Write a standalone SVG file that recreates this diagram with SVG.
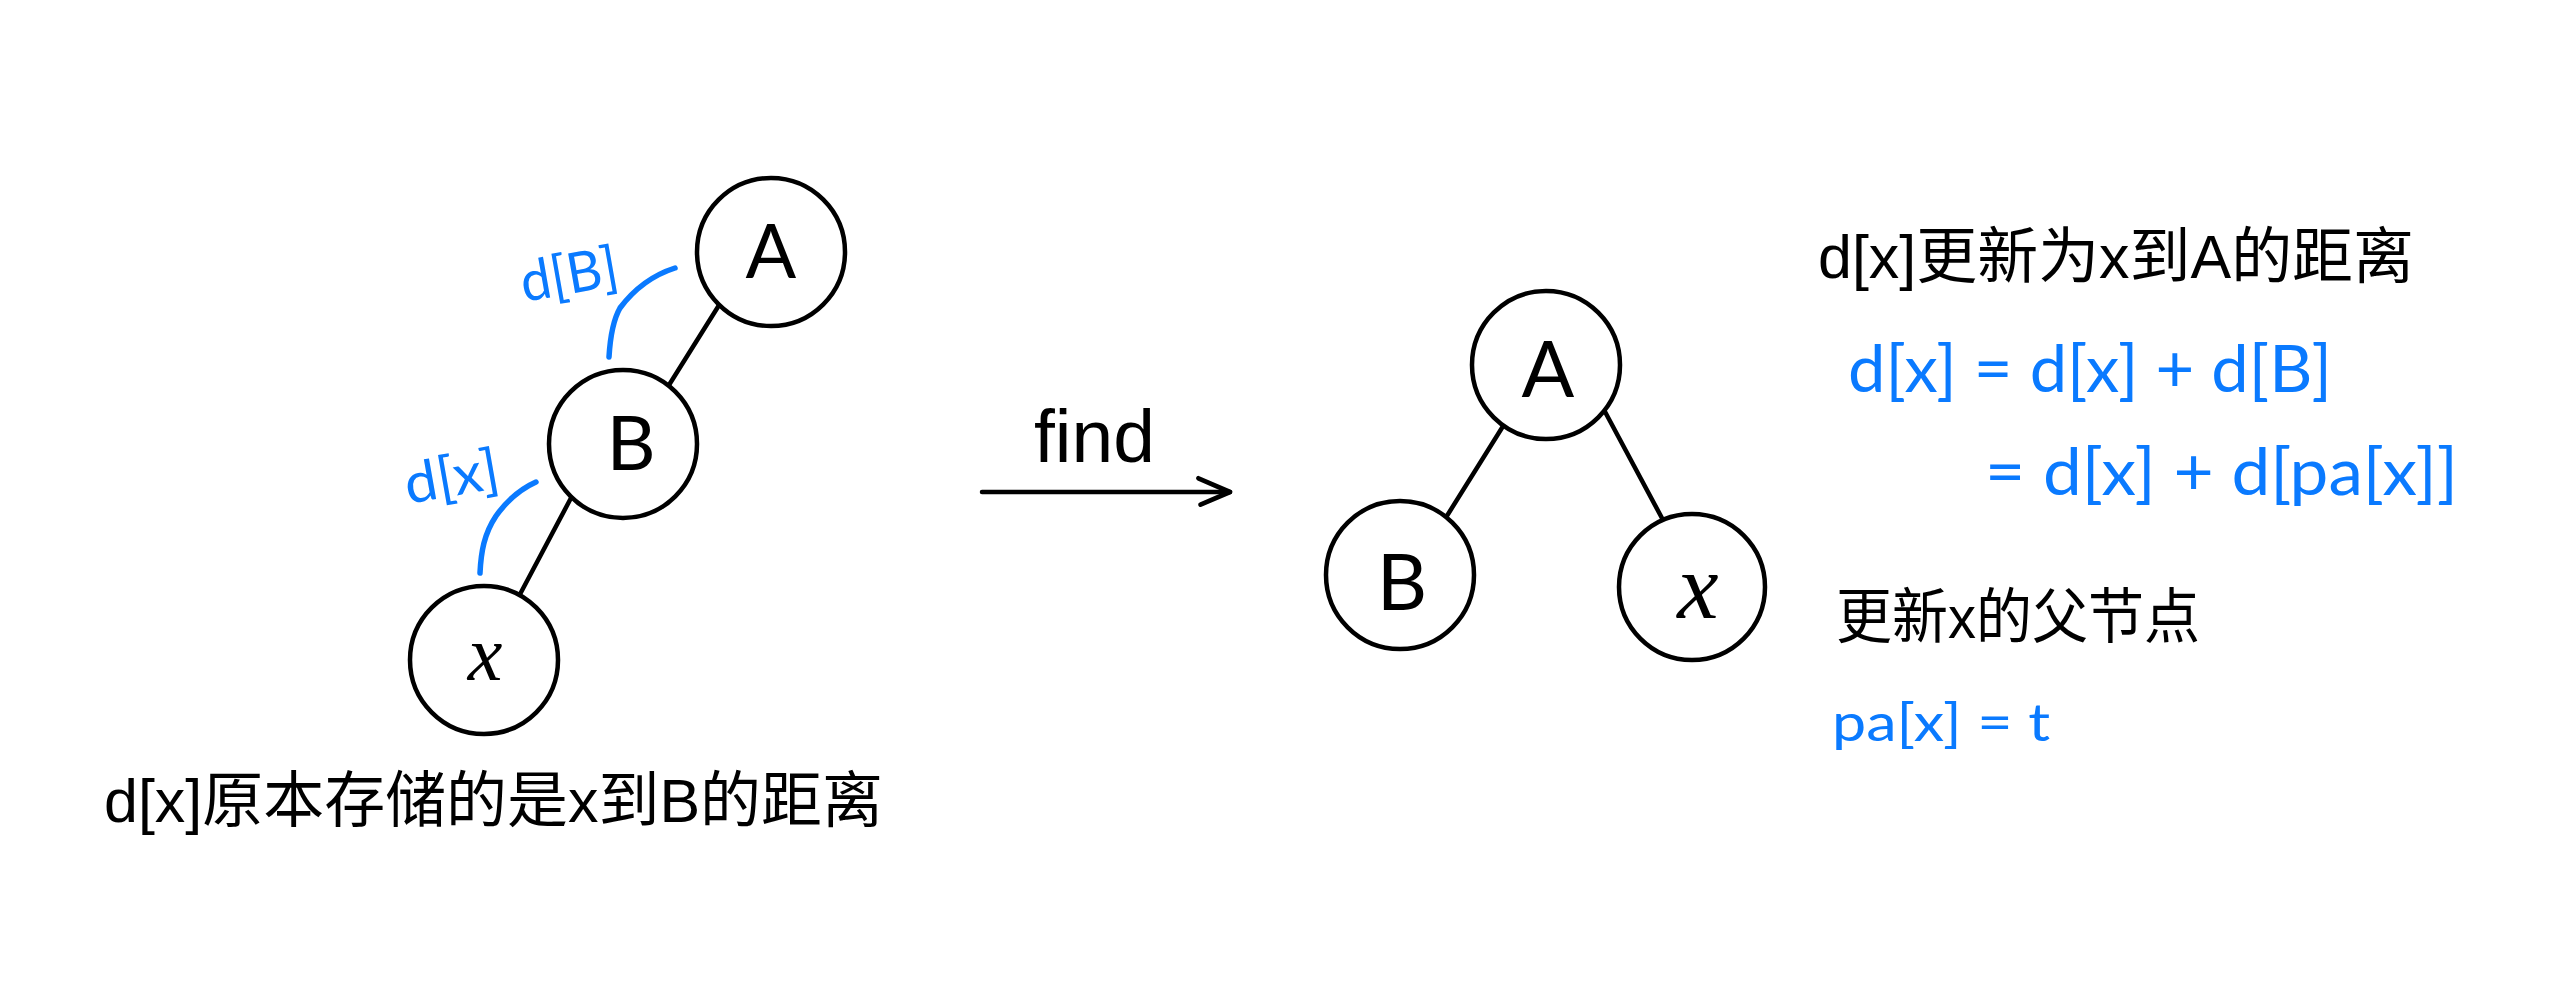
<svg xmlns="http://www.w3.org/2000/svg" width="2573" height="1000" viewBox="0 0 2573 1000">
<defs>
<style>
.node{fill:#fff;stroke:#000;stroke-width:4.5}
.lab{font-family:"Lato","Liberation Sans",sans-serif;fill:#000;text-anchor:middle}
.labx{font-family:"Liberation Serif",serif;font-style:italic;fill:#000;text-anchor:middle}
.edge{stroke:#000;stroke-width:4.5;stroke-linecap:round;fill:none}
.arc{stroke:#0a7aff;stroke-width:5.5;stroke-linecap:round;fill:none}
.hand{font-family:"Lato","Liberation Sans",sans-serif;fill:#0a7aff}
.txt{font-family:"Liberation Sans","Noto Sans CJK SC",sans-serif;fill:#000}
</style>
<marker id="chev" markerUnits="userSpaceOnUse" markerWidth="40" markerHeight="40" viewBox="-34 -16 38 32" refX="0" refY="0" orient="auto">
<path d="M-30,-13 L0,0 L-28,12" fill="none" stroke="#000" stroke-width="4.5" stroke-linecap="round" stroke-linejoin="round"/>
</marker>
</defs>
<rect width="2573" height="1000" fill="#fff"/>
<g id="connectors">
<line class="edge" x1="721" y1="302" x2="669" y2="385"/>
<line class="edge" x1="571" y1="498" x2="518" y2="598"/>
<line class="edge" x1="1505" y1="423" x2="1445" y2="519"/>
<line class="edge" x1="1603" y1="408" x2="1663" y2="520"/>
<line class="edge" x1="982" y1="492" x2="1230" y2="492" marker-end="url(#chev)"/>
</g>
<g id="nodeA1"><circle class="node" cx="771" cy="252" r="74"/><text class="lab" x="771" y="278" font-size="75">A</text></g>
<g id="nodeB1"><circle class="node" cx="623" cy="444" r="74"/><text class="lab" x="631" y="470" font-size="76">B</text></g>
<g id="nodeX1"><circle class="node" cx="484" cy="660" r="74"/><text class="labx" x="485" y="680" font-size="78">x</text></g>
<g id="nodeA2"><circle class="node" cx="1546" cy="365" r="74"/><text class="lab" x="1548" y="397" font-size="78">A</text></g>
<g id="nodeB2"><circle class="node" cx="1400" cy="575" r="74"/><text class="lab" x="1402" y="610" font-size="78">B</text></g>
<g id="nodeX2"><circle class="node" cx="1692" cy="587" r="73"/><text class="labx" x="1698" y="618" font-size="93">x</text></g>
<g id="annotations">
<path class="arc" d="M675,268 C650,276 632,292 620,308 C612,322 610,340 609,357"/>
<path class="arc" d="M536,482 C518,490 506,502 496,516 C484,534 481,552 480,573"/>
<text class="hand" x="524" y="302" font-size="56" textLength="98" lengthAdjust="spacingAndGlyphs" transform="rotate(-10 524 302)">d[B]</text>
<text class="hand" x="408" y="504" font-size="56" textLength="95" lengthAdjust="spacingAndGlyphs" transform="rotate(-10 408 504)">d[x]</text>
</g>
<g id="labels">
<text class="txt" x="1034" y="462" font-size="74" textLength="121" lengthAdjust="spacingAndGlyphs">find</text>
<text class="txt" x="104" y="822" font-size="61" textLength="779" lengthAdjust="spacingAndGlyphs">d[x]原本存储的是x到B的距离</text>
<text class="txt" x="1818" y="278" font-size="61" textLength="596" lengthAdjust="spacingAndGlyphs">d[x]更新为x到A的距离</text>
<text class="txt" x="1836" y="638" font-size="60" textLength="364" lengthAdjust="spacingAndGlyphs">更新x的父节点</text>
<text class="hand" x="1848" y="392" font-size="66" textLength="484" lengthAdjust="spacingAndGlyphs">d[x] = d[x] + d[B]</text>
<text class="hand" x="1985" y="495" font-size="66" textLength="473" lengthAdjust="spacingAndGlyphs">= d[x] + d[pa[x]]</text>
<text class="hand" x="1832" y="741" font-size="52" textLength="218" lengthAdjust="spacingAndGlyphs">pa[x] = t</text>
</g>
</svg>
